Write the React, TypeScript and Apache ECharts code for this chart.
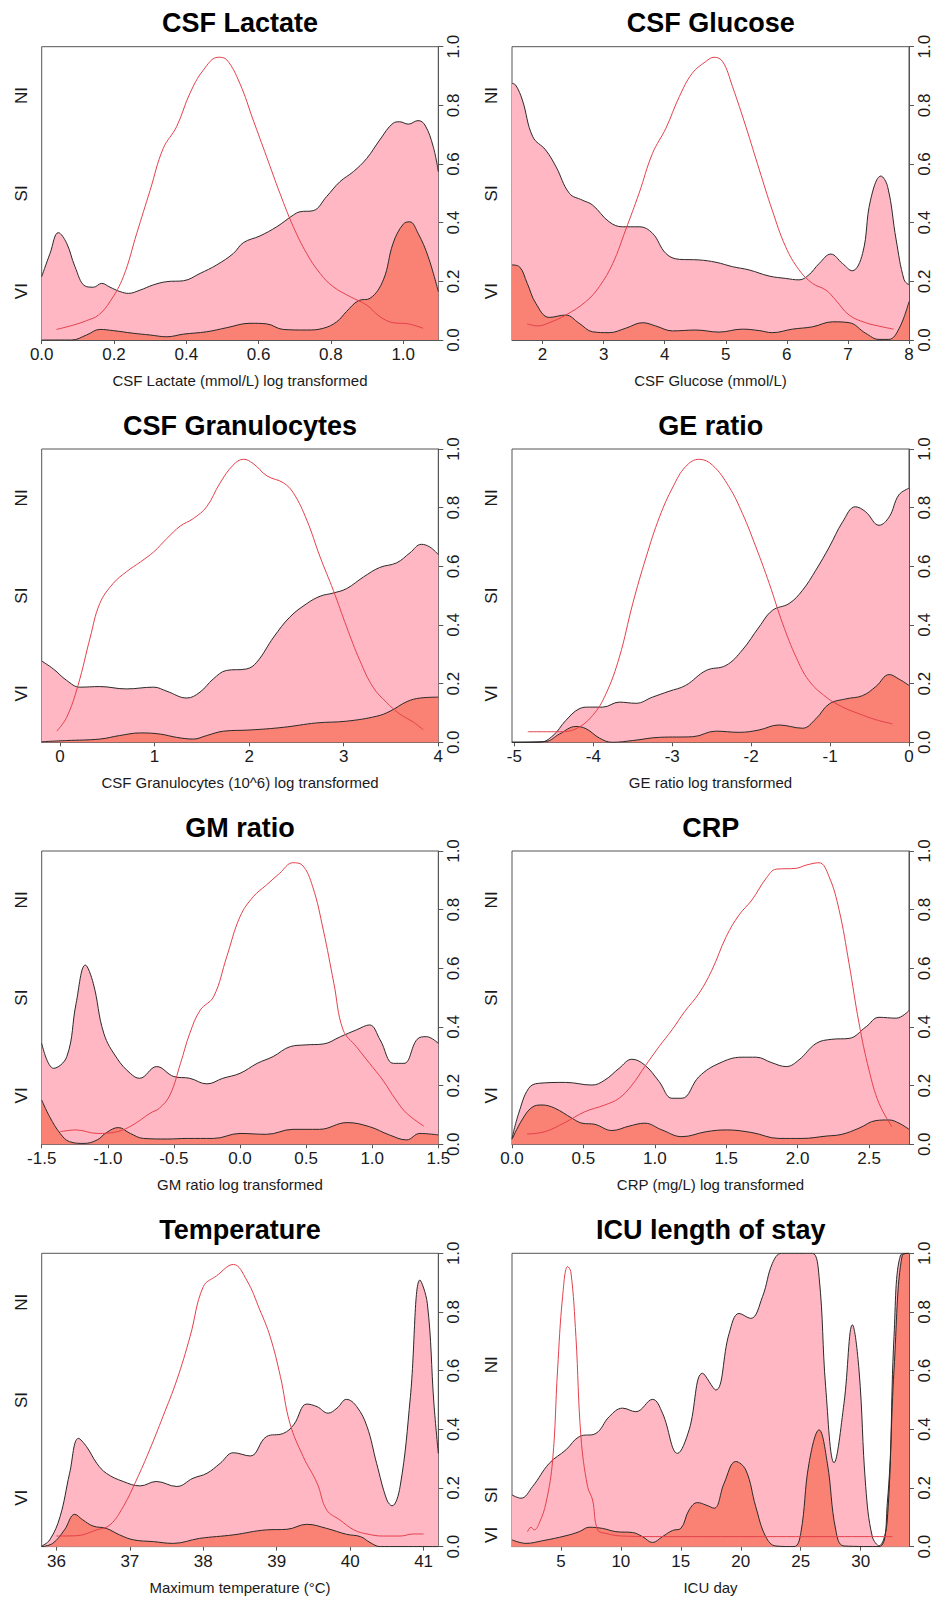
import React, { useEffect, useRef } from "react";
import * as echarts from "echarts";

// ---------- data: [x, y] pairs ----------
const lactateSI = [[0,0.216],[0.023,0.295],[0.046,0.366],[0.069,0.33],[0.092,0.25],[0.12,0.184],[0.143,0.18],[0.166,0.193],[0.189,0.18],[0.217,0.165],[0.24,0.159],[0.272,0.17],[0.309,0.188],[0.346,0.199],[0.392,0.202],[0.438,0.227],[0.484,0.256],[0.53,0.295],[0.558,0.332],[0.604,0.355],[0.65,0.386],[0.696,0.426],[0.714,0.437],[0.751,0.441],[0.788,0.489],[0.825,0.54],[0.862,0.574],[0.899,0.619],[0.935,0.682],[0.972,0.739],[0.99,0.744],[1.014,0.736],[1.041,0.748],[1.06,0.733],[1.083,0.659],[1.097,0.574]];
const lactateVI = [[0,0],[0.083,0],[0.124,0.017],[0.161,0.036],[0.198,0.032],[0.253,0.023],[0.3,0.017],[0.346,0.011],[0.392,0.02],[0.456,0.028],[0.512,0.042],[0.576,0.057],[0.622,0.055],[0.668,0.036],[0.733,0.034],[0.779,0.04],[0.816,0.062],[0.843,0.097],[0.876,0.134],[0.908,0.142],[0.945,0.205],[0.972,0.33],[1.0,0.395],[1.018,0.403],[1.041,0.364],[1.069,0.284],[1.097,0.165]];
const lactateNI = [[0.041,0.036],[0.088,0.051],[0.124,0.066],[0.157,0.085],[0.189,0.131],[0.226,0.216],[0.263,0.364],[0.3,0.511],[0.336,0.653],[0.373,0.727],[0.41,0.841],[0.447,0.92],[0.488,0.964],[0.512,0.955],[0.548,0.875],[0.585,0.75],[0.622,0.625],[0.659,0.5],[0.696,0.386],[0.733,0.295],[0.77,0.227],[0.806,0.182],[0.853,0.148],[0.899,0.119],[0.935,0.08],[0.972,0.059],[1.014,0.055],[1.055,0.04]];

const glucoseSI = [[1.5,0.875],[1.56,0.869],[1.67,0.818],[1.84,0.693],[2.05,0.648],[2.22,0.591],[2.44,0.5],[2.65,0.477],[2.82,0.46],[3.09,0.403],[3.31,0.386],[3.58,0.386],[3.8,0.364],[4.02,0.295],[4.24,0.275],[4.56,0.273],[4.84,0.265],[5.11,0.25],[5.38,0.239],[5.71,0.218],[5.98,0.21],[6.2,0.205],[6.36,0.222],[6.53,0.261],[6.72,0.293],[6.91,0.261],[7.07,0.236],[7.24,0.295],[7.37,0.477],[7.54,0.559],[7.65,0.523],[7.79,0.341],[7.92,0.205],[8.0,0.188]];
const glucoseVI = [[1.5,0.256],[1.62,0.25],[1.75,0.193],[1.89,0.125],[2.11,0.077],[2.38,0.085],[2.6,0.057],[2.82,0.028],[3.09,0.025],[3.36,0.04],[3.64,0.059],[3.85,0.048],[4.13,0.031],[4.51,0.034],[4.89,0.027],[5.27,0.037],[5.55,0.032],[5.76,0.025],[6.09,0.037],[6.42,0.045],[6.75,0.062],[7.02,0.059],[7.29,0.023],[7.51,0.002],[7.67,0.002],[7.84,0.04],[8.0,0.131]];
const glucoseNI = [[1.75,0.055],[1.92,0.048],[2.11,0.059],[2.38,0.085],[2.71,0.131],[2.93,0.182],[3.15,0.261],[3.36,0.375],[3.58,0.5],[3.8,0.636],[4.02,0.722],[4.24,0.83],[4.45,0.909],[4.67,0.949],[4.81,0.964],[4.95,0.949],[5.11,0.864],[5.33,0.727],[5.55,0.58],[5.76,0.443],[5.98,0.318],[6.2,0.239],[6.42,0.193],[6.64,0.17],[6.8,0.136],[7.02,0.085],[7.29,0.059],[7.56,0.045],[7.75,0.037]];

const granSI = [[-0.194,0.277],[-0.07,0.25],[0.07,0.211],[0.21,0.188],[0.42,0.19],[0.7,0.182],[0.99,0.188],[1.13,0.174],[1.34,0.151],[1.48,0.171],[1.62,0.216],[1.76,0.245],[1.97,0.25],[2.08,0.273],[2.26,0.359],[2.43,0.427],[2.61,0.473],[2.75,0.498],[2.89,0.509],[3.03,0.524],[3.21,0.564],[3.38,0.596],[3.56,0.612],[3.7,0.646],[3.82,0.675],[3.91,0.666],[4.0,0.64]];
const granVI = [[-0.194,0.002],[0.07,0.006],[0.42,0.011],[0.63,0.023],[0.85,0.032],[1.06,0.028],[1.23,0.017],[1.41,0.011],[1.55,0.023],[1.73,0.038],[2.01,0.042],[2.36,0.051],[2.71,0.066],[3.03,0.072],[3.35,0.089],[3.49,0.106],[3.67,0.139],[3.81,0.151],[4.0,0.154]];
const granNI = [[-0.035,0.038],[0.07,0.085],[0.19,0.194],[0.32,0.359],[0.42,0.473],[0.56,0.541],[0.7,0.581],[0.85,0.615],[0.99,0.649],[1.13,0.695],[1.27,0.737],[1.41,0.763],[1.55,0.803],[1.69,0.883],[1.83,0.945],[1.94,0.965],[2.04,0.951],[2.19,0.908],[2.36,0.885],[2.47,0.849],[2.61,0.757],[2.75,0.632],[2.89,0.518],[3.03,0.394],[3.17,0.279],[3.31,0.188],[3.45,0.137],[3.59,0.097],[3.74,0.068],[3.84,0.043]];

const geSI = [[-5.03,0],[-4.68,0],[-4.51,0.023],[-4.35,0.074],[-4.18,0.114],[-4.05,0.12],[-3.88,0.12],[-3.67,0.137],[-3.46,0.133],[-3.25,0.154],[-3.04,0.174],[-2.83,0.194],[-2.57,0.245],[-2.32,0.262],[-2.11,0.315],[-1.9,0.393],[-1.73,0.45],[-1.52,0.473],[-1.35,0.518],[-1.18,0.587],[-1.01,0.666],[-0.84,0.752],[-0.68,0.803],[-0.55,0.786],[-0.38,0.74],[-0.25,0.769],[-0.13,0.843],[0,0.866]];
const geVI = [[-5.03,0],[-4.6,0.003],[-4.43,0.028],[-4.22,0.054],[-4.09,0.046],[-3.92,0.014],[-3.76,0],[-3.5,0.006],[-3.16,0.017],[-2.74,0.019],[-2.45,0.038],[-2.15,0.034],[-1.9,0.042],[-1.65,0.059],[-1.35,0.048],[-1.18,0.08],[-1.01,0.131],[-0.8,0.148],[-0.59,0.159],[-0.42,0.19],[-0.25,0.231],[-0.13,0.216],[0,0.194]];
const geNI = [[-4.83,0.036],[-4.43,0.036],[-4.22,0.046],[-4.01,0.091],[-3.84,0.165],[-3.67,0.29],[-3.5,0.473],[-3.33,0.632],[-3.16,0.769],[-2.99,0.871],[-2.83,0.94],[-2.66,0.965],[-2.49,0.945],[-2.28,0.871],[-2.11,0.78],[-1.94,0.666],[-1.77,0.541],[-1.6,0.404],[-1.43,0.29],[-1.27,0.211],[-1.05,0.154],[-0.84,0.12],[-0.63,0.097],[-0.42,0.077],[-0.21,0.063]];

const gmSI = [[-1.5,0.344],[-1.41,0.259],[-1.31,0.299],[-1.24,0.48],[-1.17,0.611],[-1.11,0.549],[-1.03,0.378],[-0.93,0.293],[-0.83,0.242],[-0.76,0.225],[-0.63,0.265],[-0.5,0.231],[-0.38,0.225],[-0.25,0.206],[-0.13,0.225],[0,0.242],[0.13,0.276],[0.25,0.299],[0.38,0.333],[0.5,0.339],[0.63,0.342],[0.76,0.367],[0.88,0.39],[0.98,0.407],[1.06,0.356],[1.16,0.276],[1.24,0.276],[1.34,0.358],[1.41,0.367],[1.5,0.344]];
const gmVI = [[-1.5,0.151],[-1.44,0.094],[-1.36,0.037],[-1.29,0.009],[-1.18,0.003],[-1.08,0.015],[-1.01,0.04],[-0.92,0.057],[-0.83,0.037],[-0.73,0.02],[-0.55,0.018],[-0.4,0.02],[-0.2,0.02],[0,0.037],[0.2,0.034],[0.4,0.051],[0.6,0.051],[0.81,0.074],[0.98,0.06],[1.13,0.032],[1.26,0.015],[1.36,0.037],[1.5,0.032]];
const gmNI = [[-1.36,0.043],[-1.24,0.049],[-1.08,0.037],[-0.93,0.043],[-0.81,0.066],[-0.68,0.106],[-0.61,0.123],[-0.53,0.168],[-0.45,0.276],[-0.38,0.378],[-0.3,0.458],[-0.2,0.503],[-0.1,0.64],[0,0.776],[0.1,0.844],[0.2,0.884],[0.3,0.924],[0.4,0.96],[0.47,0.952],[0.55,0.878],[0.63,0.731],[0.71,0.549],[0.78,0.39],[0.88,0.333],[0.98,0.276],[1.08,0.219],[1.18,0.151],[1.26,0.106],[1.39,0.062]];

const crpSI = [[0,0.02],[0.047,0.106],[0.117,0.191],[0.187,0.208],[0.374,0.211],[0.56,0.202],[0.65,0.219],[0.75,0.259],[0.84,0.29],[0.93,0.27],[1.03,0.214],[1.12,0.157],[1.19,0.157],[1.31,0.231],[1.45,0.276],[1.61,0.297],[1.71,0.297],[1.82,0.278],[1.92,0.265],[2.01,0.288],[2.13,0.344],[2.24,0.358],[2.36,0.361],[2.48,0.401],[2.57,0.433],[2.69,0.43],[2.78,0.456]];
const crpVI = [[0,0.017],[0.07,0.083],[0.14,0.126],[0.21,0.134],[0.3,0.123],[0.42,0.089],[0.49,0.072],[0.58,0.068],[0.7,0.047],[0.82,0.062],[0.93,0.072],[1.05,0.049],[1.19,0.026],[1.36,0.043],[1.5,0.049],[1.68,0.04],[1.87,0.02],[2.03,0.02],[2.2,0.028],[2.31,0.034],[2.43,0.055],[2.55,0.081],[2.64,0.083],[2.71,0.072],[2.78,0.051]];
const crpNI = [[0.105,0.035],[0.23,0.043],[0.37,0.074],[0.51,0.111],[0.65,0.134],[0.75,0.157],[0.84,0.202],[0.93,0.265],[1.03,0.333],[1.12,0.39],[1.21,0.453],[1.31,0.515],[1.4,0.594],[1.5,0.708],[1.59,0.782],[1.68,0.833],[1.78,0.907],[1.85,0.938],[1.99,0.941],[2.06,0.952],[2.15,0.96],[2.22,0.913],[2.29,0.8],[2.36,0.617],[2.43,0.413],[2.5,0.253],[2.57,0.14],[2.66,0.06]];

const tempSI = [[35.8,0.002],[35.91,0.023],[36.05,0.102],[36.18,0.25],[36.3,0.369],[36.41,0.341],[36.55,0.284],[36.68,0.25],[36.91,0.222],[37.14,0.207],[37.36,0.222],[37.64,0.205],[37.86,0.233],[38.05,0.25],[38.23,0.284],[38.41,0.32],[38.64,0.309],[38.86,0.375],[39.09,0.386],[39.23,0.415],[39.41,0.486],[39.55,0.477],[39.7,0.455],[39.82,0.472],[39.95,0.502],[40.09,0.477],[40.23,0.409],[40.36,0.284],[40.5,0.159],[40.57,0.139],[40.68,0.205],[40.82,0.511],[40.95,0.909],[41.05,0.83],[41.14,0.489],[41.2,0.318]];
const tempVI = [[35.8,0],[35.95,0.011],[36.11,0.057],[36.25,0.11],[36.36,0.091],[36.5,0.07],[36.68,0.062],[36.86,0.04],[37.05,0.023],[37.32,0.017],[37.59,0.011],[37.95,0.028],[38.41,0.04],[38.86,0.057],[39.14,0.059],[39.41,0.076],[39.68,0.062],[39.95,0.042],[40.14,0.034],[40.27,0.014],[40.41,0],[41.2,0]];
const tempNI = [[36.0,0.036],[36.27,0.037],[36.55,0.057],[36.73,0.074],[36.91,0.136],[37.09,0.227],[37.27,0.33],[37.45,0.443],[37.64,0.568],[37.82,0.716],[38.0,0.886],[38.18,0.923],[38.41,0.962],[38.59,0.909],[38.77,0.807],[38.91,0.716],[39.05,0.58],[39.18,0.42],[39.36,0.307],[39.55,0.216],[39.68,0.125],[39.86,0.091],[40.05,0.057],[40.23,0.043],[40.45,0.036],[40.68,0.036],[40.86,0.043],[41.0,0.043]];

const icuSI = [[0.92,0.176],[1.67,0.165],[2.64,0.205],[4.03,0.284],[5.42,0.33],[6.53,0.375],[7.92,0.386],[9.03,0.443],[10.14,0.472],[11.25,0.46],[12.64,0.502],[13.47,0.455],[14.72,0.318],[15.69,0.398],[16.81,0.591],[17.92,0.534],[19.03,0.727],[19.86,0.795],[20.83,0.778],[21.81,0.852],[22.64,0.966],[23.4,1.0],[24.86,1.0],[25.97,1.0],[26.53,0.92],[27.08,0.545],[27.78,0.286],[28.61,0.489],[29.31,0.756],[29.86,0.602],[30.42,0.205],[30.97,0.034],[31.53,0.003],[32.22,0.091],[32.78,0.716],[33.33,0.994],[34.03,1.0]];
const icuVI = [[0.92,0.023],[2.08,0.011],[3.47,0.02],[5.42,0.037],[6.53,0.051],[7.36,0.066],[8.47,0.062],[9.58,0.051],[10.97,0.048],[11.8,0.034],[12.64,0.014],[13.47,0.034],[14.31,0.055],[15.0,0.062],[15.69,0.125],[16.39,0.15],[17.08,0.142],[17.78,0.131],[18.61,0.216],[19.58,0.29],[20.42,0.261],[21.25,0.136],[22.08,0.034],[22.92,0.002],[24.44,0],[25.0,0.045],[25.69,0.284],[26.53,0.398],[27.22,0.284],[27.92,0.057],[28.61,0.002],[31.53,0],[32.22,0.148],[32.78,0.602],[33.47,0.994],[34.03,1.0]];
const icuNI = [[2.22,0.051],[2.5,0.066],[2.78,0.057],[3.19,0.08],[3.75,0.148],[4.31,0.295],[4.72,0.602],[5.14,0.852],[5.56,0.955],[5.83,0.937],[6.25,0.716],[6.67,0.375],[7.22,0.205],[7.64,0.159],[8.06,0.057],[8.75,0.045],[10.14,0.036],[13.75,0.034],[32.64,0.034]];

const yTicks = [0, 0.2, 0.4, 0.6, 0.8, 1.0];

// ---------- panel configuration ----------
const panels = [
  { title: "CSF Lactate", xName: "CSF Lactate (mmol/L) log transformed", min: 0, max: 1.097, ticks: [0, 0.2, 0.4, 0.6, 0.8, 1.0], dec: 1, si: lactateSI, vi: lactateVI, ni: lactateNI, labels: [1 / 6, 3 / 6, 5 / 6] },
  { title: "CSF Glucose", xName: "CSF Glucose (mmol/L)", min: 1.5, max: 8, ticks: [2, 3, 4, 5, 6, 7, 8], dec: 0, si: glucoseSI, vi: glucoseVI, ni: glucoseNI, labels: [1 / 6, 3 / 6, 5 / 6] },
  { title: "CSF Granulocytes", xName: "CSF Granulocytes (10^6) log transformed", min: -0.194, max: 4, ticks: [0, 1, 2, 3, 4], dec: 0, si: granSI, vi: granVI, ni: granNI, labels: [1 / 6, 3 / 6, 5 / 6] },
  { title: "GE ratio", xName: "GE ratio log transformed", min: -5.03, max: 0, ticks: [-5, -4, -3, -2, -1, 0], dec: 0, si: geSI, vi: geVI, ni: geNI, labels: [1 / 6, 3 / 6, 5 / 6] },
  { title: "GM ratio", xName: "GM ratio log transformed", min: -1.5, max: 1.5, ticks: [-1.5, -1, -0.5, 0, 0.5, 1, 1.5], dec: 1, si: gmSI, vi: gmVI, ni: gmNI, labels: [1 / 6, 3 / 6, 5 / 6] },
  { title: "CRP", xName: "CRP (mg/L) log transformed", min: 0, max: 2.78, ticks: [0, 0.5, 1, 1.5, 2, 2.5], dec: 1, si: crpSI, vi: crpVI, ni: crpNI, labels: [1 / 6, 3 / 6, 5 / 6] },
  { title: "Temperature", xName: "Maximum temperature (°C)", min: 35.8, max: 41.2, ticks: [36, 37, 38, 39, 40, 41], dec: 0, si: tempSI, vi: tempVI, ni: tempNI, labels: [1 / 6, 3 / 6, 5 / 6] },
  { title: "ICU length of stay", xName: "ICU day", min: 0.92, max: 34.03, ticks: [5, 10, 15, 20, 25, 30], dec: 0, si: icuSI, vi: icuVI, ni: icuNI, labels: [0.38, 0.824, 0.96] },
];

const FONT = '"Liberation Sans", Arial, Helvetica, sans-serif';
const COL_LEFT = [41.7, 512];
const COL_W = [396.6, 397.3];
const ROW_TOP = [46.7, 449, 851, 1253.3];
const ROW_H = 293.3;
const AXIS_C = "#555";
const TEXT_C = "#1a1a1a";

export default function App() {
  const ref = useRef<HTMLDivElement>(null);
  useEffect(() => {
    document.body.style.margin = "0";
    const chart = echarts.init(ref.current!, null, { renderer: "svg" });
    const grid: any[] = [];
    const xAxis: any[] = [];
    const yAxis: any[] = [];
    const series: any[] = [];
    const graphic: any[] = [];
    panels.forEach((p, i) => {
      const col = i % 2;
      const row = Math.floor(i / 2);
      const left = COL_LEFT[col];
      const width = COL_W[col];
      const top = ROW_TOP[row];
      grid.push({ left, top, width, height: ROW_H, show: true, borderColor: AXIS_C, borderWidth: 1, backgroundColor: "transparent", containLabel: false });
      xAxis.push({
        type: "value", gridIndex: i, min: p.min, max: p.max,
        name: p.xName, nameLocation: "middle", nameGap: 33,
        nameTextStyle: { fontFamily: FONT, fontSize: 15, color: TEXT_C },
        axisLine: { show: true, onZero: false, lineStyle: { color: AXIS_C, width: 1 } },
        axisTick: { show: true, length: 4, inside: false, customValues: p.ticks, lineStyle: { color: AXIS_C } },
        axisLabel: { customValues: p.ticks, margin: 6, fontFamily: FONT, fontSize: 17, color: TEXT_C, formatter: (v: number) => v.toFixed(p.dec) },
        splitLine: { show: false },
      });
      yAxis.push({
        type: "value", gridIndex: i, position: "right", min: 0, max: 1, interval: 0.2,
        axisLine: { show: true, onZero: false, lineStyle: { color: AXIS_C, width: 1 } },
        axisTick: { show: true, length: 5, inside: false, customValues: yTicks, lineStyle: { color: AXIS_C } },
        axisLabel: { customValues: yTicks, rotate: 90, margin: 7, fontFamily: FONT, fontSize: 17, color: TEXT_C, formatter: (v: number) => v.toFixed(1) },
        splitLine: { show: false },
      });
      const common = { type: "line", xAxisIndex: i, yAxisIndex: i, symbol: "none", smooth: 0.4, clip: true, silent: true };
      series.push({ ...common, name: "SI", data: p.si, lineStyle: { color: "#2a2a2a", width: 1 }, areaStyle: { color: "#FFB7C3", opacity: 1 } });
      series.push({ ...common, name: "VI", data: p.vi, lineStyle: { color: "#2a2a2a", width: 1 }, areaStyle: { color: "#F98274", opacity: 1 } });
      series.push({ ...common, name: "NI", data: p.ni, lineStyle: { color: "#E4404C", width: 1 } });
      // title
      graphic.push({ type: "text", x: left + width / 2, y: top - 23.5, style: { text: p.title, font: `bold 27px ${FONT}`, fill: "#000", align: "center", verticalAlign: "middle" } });
      // left group labels
      const labX = left - 20.7;
      ["NI", "SI", "VI"].forEach((lab, k) => {
        graphic.push({ type: "text", x: labX, y: top + ROW_H * p.labels[k], rotation: Math.PI / 2, style: { text: lab, font: `17px ${FONT}`, fill: TEXT_C, align: "center", verticalAlign: "middle" } });
      });
    });
    chart.setOption({ animation: false, backgroundColor: "#fff", grid, xAxis, yAxis, series, graphic });
    return () => chart.dispose();
  }, []);
  return <div ref={ref} style={{ width: 933, height: 1598 }} />;
}
